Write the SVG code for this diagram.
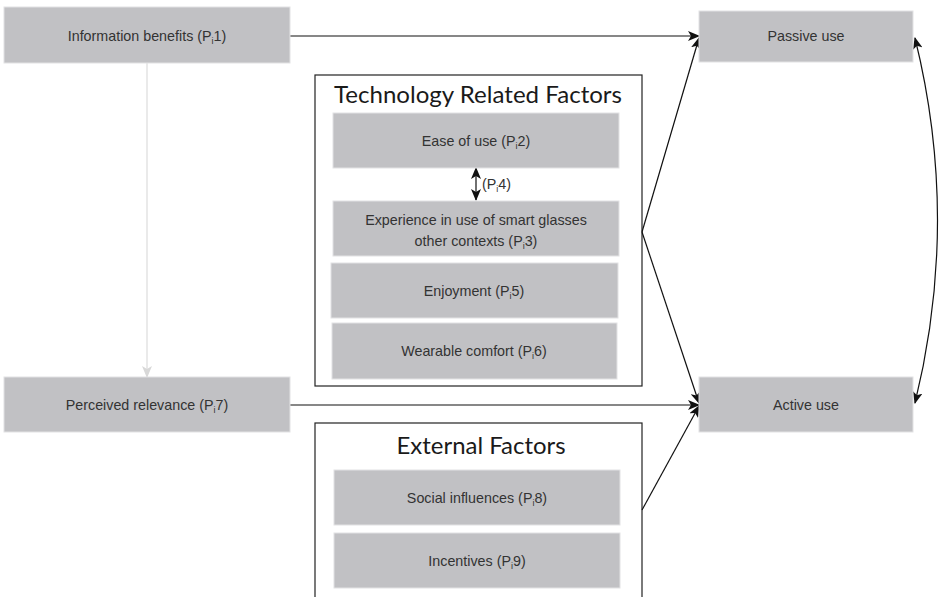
<svg xmlns="http://www.w3.org/2000/svg" width="940" height="597" viewBox="0 0 940 597">
<style>
.box{fill:#c1c1c4;stroke:#e2e2e4;stroke-width:1}
.frame{fill:#fff;stroke:#222;stroke-width:1.2}
.lbl{font-family:"Liberation Sans",Arial,sans-serif;font-size:14.3px;fill:#333;text-anchor:middle}
.title{font-family:Lato,"Open Sans",sans-serif;font-size:24px;fill:#1a1a1a;text-anchor:middle}
.con{fill:none;stroke:#111;stroke-width:1.2}
.sub{font-size:9px}
</style>
<defs>
<marker id="ah" viewBox="0 0 12 10" refX="11" refY="5" markerWidth="12" markerHeight="10" markerUnits="userSpaceOnUse" orient="auto-start-reverse">
<path d="M0,0 L12,5 L0,10 L3,5 Z" fill="#111"/>
</marker>
<marker id="ahl" viewBox="0 0 12 10" refX="11" refY="5" markerWidth="12" markerHeight="10" markerUnits="userSpaceOnUse" orient="auto">
<path d="M0,0 L12,5 L0,10 L3,5 Z" fill="#d8d8d8"/>
</marker>
</defs>
<rect width="940" height="597" fill="#fff"/>

<g id="tech-frame">
<rect class="frame" x="315" y="75" width="327" height="311"/>
<text class="title" x="478" y="103" textLength="288" lengthAdjust="spacingAndGlyphs">Technology Related Factors</text>
</g>
<g id="ext-frame">
<rect class="frame" x="315" y="423" width="327" height="190"/>
<text class="title" x="481" y="454" textLength="169" lengthAdjust="spacingAndGlyphs">External Factors</text>
</g>

<g id="connectors">
<line x1="147" y1="63" x2="147" y2="377" stroke="#dcdcdc" stroke-width="1.2" marker-end="url(#ahl)"/>
<line class="con" x1="290" y1="36" x2="699" y2="36" marker-end="url(#ah)"/>
<line class="con" x1="290" y1="405" x2="699" y2="405" marker-end="url(#ah)"/>
<line class="con" x1="642" y1="232" x2="699" y2="38" marker-end="url(#ah)"/>
<line class="con" x1="642" y1="232" x2="699" y2="403" marker-end="url(#ah)"/>
<line class="con" x1="642" y1="510" x2="699" y2="406" marker-end="url(#ah)"/>
<path class="con" d="M915,38 Q960,220 915,403" marker-start="url(#ah)" marker-end="url(#ah)"/>
<line class="con" x1="476" y1="168" x2="476" y2="200" marker-start="url(#ah)" marker-end="url(#ah)"/>
<text class="lbl" x="482" y="189" style="text-anchor:start">(P<tspan class="sub" dy="3">i</tspan><tspan dy="-3">4)</tspan></text>
</g>

<g id="info-benefits">
<rect class="box" x="4" y="7" width="286" height="56"/>
<text class="lbl" x="147" y="41">Information benefits (P<tspan class="sub" dy="3">i</tspan><tspan dy="-3">1)</tspan></text>
</g>
<g id="perceived-relevance">
<rect class="box" x="4" y="377" width="286" height="55"/>
<text class="lbl" x="147" y="410">Perceived relevance  (P<tspan class="sub" dy="3">i</tspan><tspan dy="-3">7)</tspan></text>
</g>
<g id="passive-use">
<rect class="box" x="699" y="11" width="214" height="51"/>
<text class="lbl" x="806" y="41">Passive use</text>
</g>
<g id="active-use">
<rect class="box" x="699" y="377" width="214" height="55"/>
<text class="lbl" x="806" y="410">Active use</text>
</g>
<g id="ease-of-use">
<rect class="box" x="333" y="113" width="286" height="55"/>
<text class="lbl" x="476" y="146">Ease of use (P<tspan class="sub" dy="3">i</tspan><tspan dy="-3">2)</tspan></text>
</g>
<g id="experience">
<rect class="box" x="333" y="201" width="286" height="55"/>
<text class="lbl" x="476" y="225">Experience in use of smart glasses</text>
<text class="lbl" x="476" y="246">other contexts (P<tspan class="sub" dy="3">i</tspan><tspan dy="-3">3)</tspan></text>
</g>
<g id="enjoyment">
<rect class="box" x="331" y="263" width="287" height="55"/>
<text class="lbl" x="474" y="296">Enjoyment  (P<tspan class="sub" dy="3">i</tspan><tspan dy="-3">5)</tspan></text>
</g>
<g id="wearable-comfort">
<rect class="box" x="332" y="323" width="285" height="56"/>
<text class="lbl" x="474" y="356">Wearable comfort (P<tspan class="sub" dy="3">i</tspan><tspan dy="-3">6)</tspan></text>
</g>
<g id="social-influences">
<rect class="box" x="334" y="470" width="286" height="55"/>
<text class="lbl" x="477" y="503">Social influences (P<tspan class="sub" dy="3">i</tspan><tspan dy="-3">8)</tspan></text>
</g>
<g id="incentives">
<rect class="box" x="334" y="533" width="286" height="55"/>
<text class="lbl" x="477" y="566">Incentives (P<tspan class="sub" dy="3">i</tspan><tspan dy="-3">9)</tspan></text>
</g>
</svg>
